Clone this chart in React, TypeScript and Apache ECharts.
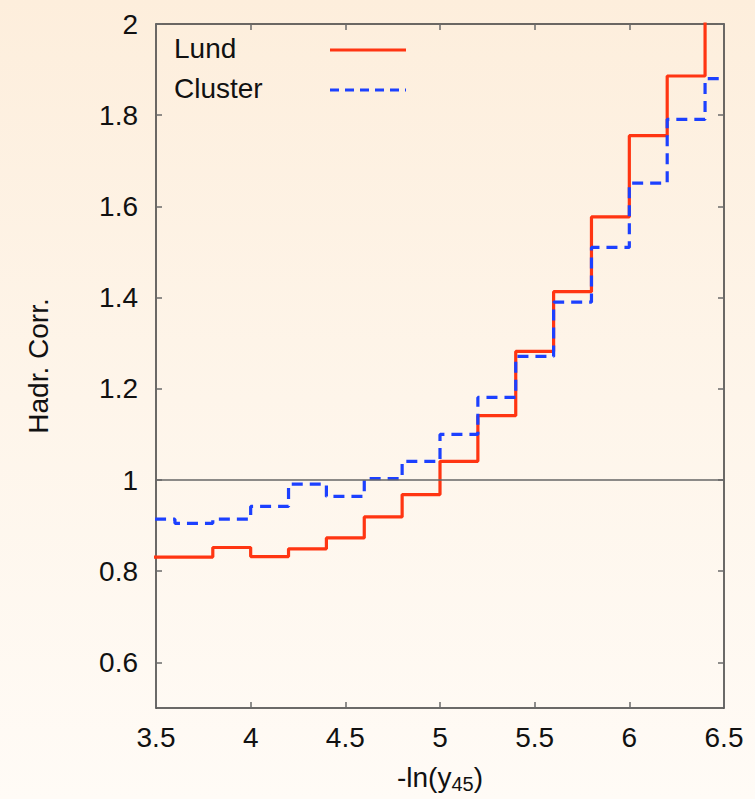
import React, { useEffect, useRef } from "react";
import * as echarts from "echarts";

// Bin edges (left edges of 0.2-wide bins); the last bin is cut at the axis end 6.5
const binEdges = [3.4, 3.6, 3.8, 4.0, 4.2, 4.4, 4.6, 4.8, 5.0, 5.2, 5.4, 5.6, 5.8, 6.0, 6.2, 6.4, 6.5];
const lundValues = [0.831, 0.831, 0.852, 0.832, 0.849, 0.873, 0.919, 0.968, 1.041, 1.141, 1.282, 1.413, 1.577, 1.755, 1.886, 2.06];
const clusterValues = [0.914, 0.905, 0.914, 0.942, 0.991, 0.964, 1.003, 1.041, 1.1, 1.181, 1.271, 1.39, 1.51, 1.651, 1.791, 1.88];
const yTickValues = [0.6, 0.8, 1, 1.2, 1.4, 1.6, 1.8, 2];
const seriesNames = ["Lund", "Cluster"];
const seriesColors = ["#ff3512", "#1c40ff"];

function stepData(vals: number[]) {
  const pts = vals.map((v, i) => [binEdges[i], v]);
  pts.push([binEdges[vals.length], vals[vals.length - 1]]);
  return pts;
}

const FONT = "'Liberation Sans', Arial, Helvetica, sans-serif";

export default function App() {
  const ref = useRef<HTMLDivElement>(null);
  useEffect(() => {
    if (!ref.current) return;
    const chart = echarts.init(ref.current, undefined, { renderer: "svg" });
    const axisLine = { show: true, lineStyle: { color: "#3a3a3a", width: 1.5 } };
    const tickStyle = { color: "#6a6a6a", width: 1.5 };
    const legendRows = seriesNames.map((name, i) => {
      const y = 50 + i * 40;
      return [
        {
          type: "text",
          left: 174,
          top: y - 16,
          style: { text: name, fontSize: 28, fill: "#111", font: `28px ${FONT}`, textVerticalAlign: "top" },
        },
        {
          type: "line",
          shape: { x1: 330, y1: y, x2: 406, y2: y },
          style: {
            stroke: seriesColors[i],
            lineWidth: 3,
            lineDash: i === 1 ? [9, 6] : null,
          },
        },
      ];
    });
    chart.setOption({
      animation: false,
      backgroundColor: "transparent",
      textStyle: { fontFamily: FONT },
      grid: { left: 156, right: 31, top: 24, bottom: 88, containLabel: false },
      legend: { show: false, data: seriesNames },
      graphic: legendRows.flat(),
      xAxis: [
        {
          type: "value",
          min: 3.5,
          max: 6.5,
          interval: 0.5,
          position: "bottom",
          axisLine,
          axisTick: { show: true, inside: true, length: 6, lineStyle: tickStyle },
          splitLine: { show: false },
          axisLabel: { fontSize: 28, color: "#111", margin: 15, lineHeight: 28, fontFamily: FONT },
          name: "-ln(y{sub|45})",
          nameLocation: "middle",
          nameGap: 52,
          nameTextStyle: {
            fontSize: 28,
            color: "#111",
            fontFamily: FONT,
            rich: { sub: { fontSize: 20, verticalAlign: "bottom", padding: [14, 0, 0, 0], fontFamily: FONT, color: "#111" } },
          },
        },
        {
          type: "value",
          min: 3.5,
          max: 6.5,
          interval: 0.5,
          position: "top",
          axisLine,
          axisTick: { show: true, inside: true, length: 6, lineStyle: tickStyle },
          splitLine: { show: false },
          axisLabel: { show: false },
        },
      ],
      yAxis: [
        {
          type: "value",
          min: 0.5,
          max: 2,
          position: "left",
          axisLine,
          axisTick: { show: true, inside: true, length: 6, lineStyle: tickStyle, customValues: yTickValues },
          splitLine: { show: false },
          axisLabel: { fontSize: 28, color: "#111", margin: 18, fontFamily: FONT, customValues: yTickValues },
          name: "Hadr. Corr.",
          nameLocation: "middle",
          nameGap: 104,
          nameTextStyle: { fontSize: 28, color: "#111", fontFamily: FONT },
        },
        {
          type: "value",
          min: 0.5,
          max: 2,
          position: "right",
          axisLine,
          axisTick: { show: true, inside: true, length: 6, lineStyle: tickStyle, customValues: yTickValues },
          splitLine: { show: false },
          axisLabel: { show: false, customValues: yTickValues },
        },
      ],
      series: [
        {
          name: "ref",
          type: "line",
          data: [],
          silent: true,
          markLine: {
            silent: true,
            symbol: "none",
            label: { show: false },
            lineStyle: { color: "#666", width: 1.5, type: "solid" },
            data: [{ yAxis: 1 }],
          },
        },
        {
          name: seriesNames[0],
          type: "line",
          step: "end",
          data: stepData(lundValues),
          symbol: "none",
          showSymbol: false,
          clip: true,
          lineStyle: { color: seriesColors[0], width: 3.2 },
          itemStyle: { color: seriesColors[0] },
        },
        {
          name: seriesNames[1],
          type: "line",
          step: "end",
          data: stepData(clusterValues),
          symbol: "none",
          showSymbol: false,
          clip: true,
          lineStyle: { color: seriesColors[1], width: 3.2, type: [11, 7] },
          itemStyle: { color: seriesColors[1] },
        },
      ],
    });
    return () => chart.dispose();
  }, []);
  return (
    <div
      style={{
        position: "fixed",
        left: 0,
        top: 0,
        width: 755,
        height: 799,
        background: "linear-gradient(180deg, #fdeedc 0%, #fef5ea 50%, #fffbf6 100%)",
      }}
    >
      <div ref={ref} style={{ width: 755, height: 799 }} />
    </div>
  );
}
